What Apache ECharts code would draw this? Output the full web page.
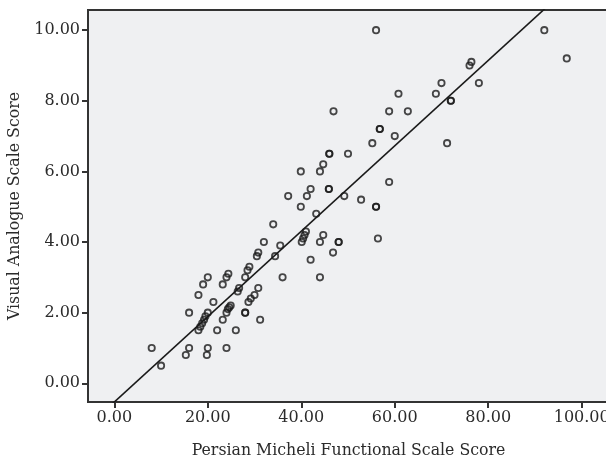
<!DOCTYPE html>
<html>
<head>
<meta charset="utf-8">
<script src="https://cdn.jsdelivr.net/npm/echarts@6/dist/echarts.min.js"></script>
<style>
html,body{margin:0;padding:0;background:#fff;}
#chart{width:606px;height:462px;}
</style>
</head>
<body>
<div id="chart"></div>
<script>
// Persian Micheli Functional Scale Score (x)
const pmfsScore = [
  8.0, 10.0, 15.3, 16.0, 16.0, 18.0, 19.0, 20.0,
  18.0, 18.4, 18.8, 19.2, 19.5,
  19.8, 20.0, 20.0, 21.2, 22.0, 23.2, 23.2, 24.0, 24.4, 24.0,
  24.0, 24.3, 24.6, 24.9,
  26.0, 26.4, 26.7, 28.0, 28.0, 28.0, 28.5, 28.9, 28.7, 29.2, 30.0, 30.8, 31.2,
  30.5, 30.8, 32.0, 34.0, 34.4, 35.5, 36.0,
  37.2, 39.9, 39.9, 40.1, 40.4, 40.7, 41.0, 41.2, 42.0, 42.0, 43.2,
  44.0, 44.7, 44.0, 44.0, 44.7, 45.9, 45.9, 46.0, 46.0, 46.8, 46.9,
  48.0, 48.0, 49.2, 50.0, 52.8, 55.2, 56.0, 56.0, 56.0, 56.4, 56.8, 56.8,
  58.8, 58.8, 60.0, 60.8, 62.8, 68.8, 70.0, 71.2, 72.0, 72.0,
  76.0, 76.4, 78.0, 92.0, 96.8
];
// Visual Analogue Scale Score (y)
const vasScore = [
  1.0, 0.5, 0.8, 1.0, 2.0, 2.5, 2.8, 3.0,
  1.5, 1.6, 1.7, 1.8, 1.9,
  0.8, 1.0, 2.0, 2.3, 1.5, 1.8, 2.8, 3.0, 3.1, 1.0,
  2.0, 2.1, 2.15, 2.2,
  1.5, 2.6, 2.7, 2.0, 2.0, 3.0, 3.2, 3.3, 2.3, 2.4, 2.5, 2.7, 1.8,
  3.6, 3.7, 4.0, 4.5, 3.6, 3.9, 3.0,
  5.3, 6.0, 5.0, 4.0, 4.1, 4.2, 4.3, 5.3, 5.5, 3.5, 4.8,
  4.0, 4.2, 3.0, 6.0, 6.2, 5.5, 5.5, 6.5, 6.5, 3.7, 7.7,
  4.0, 4.0, 5.3, 6.5, 5.2, 6.8, 10.0, 5.0, 5.0, 4.1, 7.2, 7.2,
  5.7, 7.7, 7.0, 8.2, 7.7, 8.2, 8.5, 6.8, 8.0, 8.0,
  9.0, 9.1, 8.5, 10.0, 9.2
];
// Fitted line: VAS = intercept + slope * PMFS
const fitIntercept = -0.53;
const fitSlope = 0.1209;
// Tick labels
const xTicks = [0, 20, 40, 60, 80, 100];
const yTicks = [0, 2, 4, 6, 8, 10];

const xMin = -5.63, xMax = 105.84;
const yMin = -0.53, yMax = 10.57;

const points = pmfsScore.map((x, i) => [x, vasScore[i]]);
const fitLine = [xMin, xMax].map(x => [x, fitIntercept + fitSlope * x]);

const font = 'DejaVu Serif';
const textColor = '#2b2b2b';
const chart = echarts.init(document.getElementById('chart'), null, {renderer: 'canvas'});
chart.setOption({
  animation: false,
  backgroundColor: '#ffffff',
  grid: {
    left: 88, right: -3, top: 10, bottom: 60,
    outerBoundsMode: 'none', containLabel: false,
    show: true, backgroundColor: '#eff0f2', borderColor: '#333', borderWidth: 2
  },
  xAxis: {
    type: 'value', min: xMin, max: xMax,
    name: 'Persian Micheli Functional Scale Score',
    nameLocation: 'middle', nameGap: 41,
    nameTextStyle: {fontFamily: font, fontSize: 15.75, color: textColor},
    axisLine: {show: true, onZero: false, lineStyle: {color: '#333', width: 2}},
    axisTick: {show: true, length: 6, lineStyle: {color: '#333', width: 2}, customValues: xTicks},
    axisLabel: {customValues: xTicks, fontFamily: font, fontSize: 16, color: textColor, margin: 8,
      hideOverlap: false, showMaxLabel: true, formatter: v => v.toFixed(2)},
    splitLine: {show: false}
  },
  yAxis: {
    type: 'value', min: yMin, max: yMax,
    name: 'Visual Analogue Scale Score',
    nameLocation: 'middle', nameGap: 60, nameRotate: 90,
    nameTextStyle: {fontFamily: font, fontSize: 15.75, color: textColor},
    axisLine: {show: true, onZero: false, lineStyle: {color: '#333', width: 2}},
    axisTick: {show: true, length: 6, lineStyle: {color: '#333', width: 2}, customValues: yTicks},
    axisLabel: {customValues: yTicks, fontFamily: font, fontSize: 16, color: textColor, margin: 8,
      formatter: v => v.toFixed(2)},
    splitLine: {show: false}
  },
  series: [
    {
      type: 'line', data: fitLine, showSymbol: false, symbol: 'none', clip: true,
      lineStyle: {color: '#1a1a1a', width: 1.6}, z: 2
    },
    {
      type: 'scatter', data: points, symbol: 'circle', symbolSize: 6.3, clip: true,
      itemStyle: {color: 'rgba(0,0,0,0)', borderColor: '#1a1a1a', borderWidth: 1.8}, z: 3
    }
  ]
});
</script>
</body>
</html>
